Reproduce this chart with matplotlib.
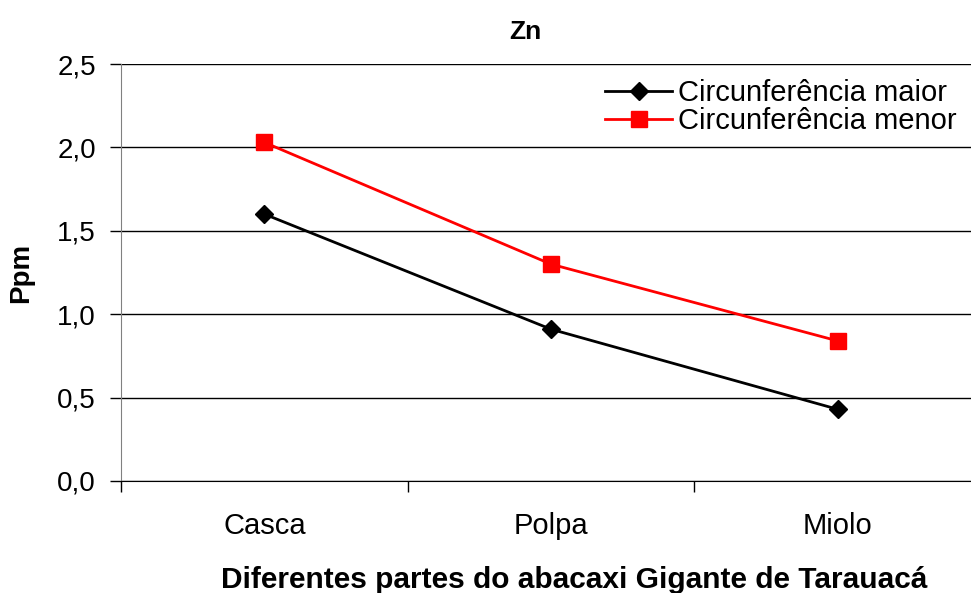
import numpy as np
import matplotlib
matplotlib.use("Agg")
from matplotlib import pyplot as plt
from matplotlib.ticker import FixedLocator, FuncFormatter

plt.rcParams['font.family'] = ['Liberation Sans', 'DejaVu Sans']

partes = ['Casca', 'Polpa', 'Miolo']
maior = [1.60, 0.91, 0.43]
menor = [2.03, 1.30, 0.84]

fig = plt.figure(figsize=(9.71, 5.93), dpi=100)
# axes runs a bit past the right edge of the figure
ax = fig.add_axes([121 / 971, 1 - 481 / 593, 860 / 971, 417 / 593])

x = np.arange(1, len(partes) + 1)
ax.plot(x, maior, color='black', lw=2, marker='D', ms=9.5,
        label='Circunferência maior', zorder=3)
ax.plot(x, menor, color='#ff0000', lw=2, marker='s', ms=11,
        label='Circunferência menor', zorder=3)

ax.set_xlim(0.5, 3.5)
ax.set_ylim(0, 2.5)
ax.set_yticks(np.arange(0, 2.51, 0.5))
ax.yaxis.set_major_formatter(FuncFormatter(lambda v, p: f'{v:.1f}'.replace('.', ',')))
ax.yaxis.grid(True, color='black', lw=1)
ax.set_axisbelow(True)

# category labels between the boundary ticks
ax.xaxis.set_major_locator(FixedLocator([0.5, 1.5, 2.5, 3.5]))
ax.xaxis.set_minor_locator(FixedLocator(x))
ax.set_xticklabels([])
ax.set_xticklabels(partes, minor=True)
ax.tick_params(axis='x', which='major', length=8, width=1, direction='out')
ax.tick_params(axis='x', which='minor', length=0, pad=22, labelsize=21)
ax.tick_params(axis='y', length=8, width=1, direction='out', pad=10, labelsize=20)

for s in ['top', 'right']:
    ax.spines[s].set_visible(False)
ax.spines['left'].set_color('#808080')
ax.spines['bottom'].set_color('black')

ax.set_title('Zn', fontsize=19, fontweight='bold', pad=18, x=0.47)
ax.set_ylabel('Ppm', fontsize=20, fontweight='bold', labelpad=17)
ax.set_xlabel('Diferentes partes do abacaxi Gigante de Tarauacá',
              fontsize=21.5, fontweight='bold', labelpad=22)
ax.xaxis.set_label_coords(0.527, -0.205)

leg = ax.legend(loc='upper left', bbox_to_anchor=(0.541, 1.01), frameon=False,
                fontsize=21, handlelength=2.3, handletextpad=0.2,
                labelspacing=0.0, borderaxespad=0.25)

fig.savefig('out.png', dpi=100)
